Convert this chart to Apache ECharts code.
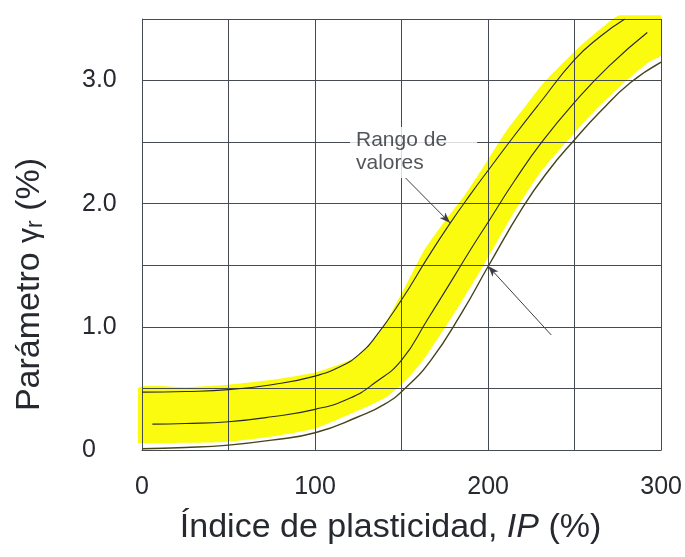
<!DOCTYPE html>
<html>
<head>
<meta charset="utf-8">
<script src="https://cdn.jsdelivr.net/npm/echarts@6/dist/echarts.min.js"></script>
<style>
  html, body { margin: 0; padding: 0; background: #ffffff; }
  #chart { width: 685px; height: 557px; }
</style>
</head>
<body>
<div id="chart"></div>
<script>
// Parámetro γr frente al índice de plasticidad IP: curvas límite y media
const upperCurve = [[0,0.47],[25,0.475],[50,0.49],[75,0.53],[100,0.60],[115,0.68],[125,0.77],[135,0.92],[150,1.22],[165,1.56],[178,1.84],[190,2.08],[200,2.27],[215,2.55],[230,2.82],[250,3.17],[265,3.36],[279,3.5]];
const middleCurve = [[6,0.21],[25,0.215],[50,0.23],[75,0.27],[100,0.33],[120,0.42],[135,0.55],[150,0.73],[165,1.06],[180,1.40],[190,1.63],[200,1.85],[215,2.18],[231,2.50],[251,2.84],[270,3.12],[292,3.39]];
const lowerCurve = [[0,0.01],[25,0.02],[50,0.04],[75,0.08],[100,0.14],[125,0.27],[140,0.37],[152,0.50],[167,0.73],[185,1.12],[200,1.49],[220,1.97],[235,2.27],[250,2.52],[265,2.75],[282,2.98],[300,3.15]];

// Franja amarilla (rango de valores): borde superior e inferior
const bandTop = [[-2.3,0.50],[25,0.51],[50,0.53],[75,0.57],[100,0.63],[115,0.70],[125,0.77],[138,0.97],[150,1.27],[163,1.62],[175,1.86],[186,2.06],[200,2.36],[211,2.60],[222,2.80],[232,2.98],[251,3.25],[265,3.42],[276,3.53],[300,3.53]];
const bandBottom = [[-2.3,0.055],[25,0.058],[50,0.068],[75,0.11],[100,0.175],[125,0.32],[140,0.42],[150,0.53],[162,0.72],[180,1.10],[197,1.49],[215,1.93],[230,2.25],[245,2.50],[262,2.76],[280,3.00],[293,3.15],[300,3.21]];

// Flechas de la anotación: [inicio, punta]
const arrowToUpper = [[152.3,2.209],[178.1,1.843]];
const arrowToLower = [[236.5,0.934],[200,1.494]];
const noteAnchor = [120.2,2.623];
const noteLines = ['Rango de', 'valores'];

// Ejes
const xTicks = [0,100,200,300];
const yTicks = [0,1.0,2.0,3.0];

const FONT = "'Liberation Sans', Arial, sans-serif";
const INK = '#26292f';
const GRID = '#464a52';

const chart = echarts.init(document.getElementById('chart'), null, { renderer: 'canvas' });

chart.setOption({
  animation: false,
  backgroundColor: '#ffffff',
  grid: { left: 142, right: 19, top: 19, bottom: 107, containLabel: false },
  xAxis: {
    type: 'value', min: 0, max: 300, interval: 50, z: 3,
    axisLine: { show: true, lineStyle: { color: GRID, width: 1 } },
    axisTick: { show: false },
    splitLine: { show: true, lineStyle: { color: GRID, width: 1 } },
    axisLabel: {
      margin: 25, fontSize: 25, color: INK, fontFamily: FONT,
      formatter: v => xTicks.includes(v) ? String(v) : ''
    },
    name: '{n|Índice de plasticidad, }{i|IP}{n| (%)}',
    nameLocation: 'middle', nameGap: 61,
    nameTextStyle: {
      padding: [0, 22, 0, 0],
      rich: {
        n: { fontSize: 34, color: INK, fontFamily: FONT },
        i: { fontSize: 34, color: INK, fontFamily: FONT, fontStyle: 'italic' }
      }
    }
  },
  yAxis: {
    type: 'value', min: 0, max: 3.5, interval: 0.5, z: 3,
    axisLine: { show: true, lineStyle: { color: GRID, width: 1 } },
    axisTick: { show: false },
    splitLine: { show: true, lineStyle: { color: GRID, width: 1 } },
    axisLabel: {
      margin: 60, align: 'left', fontSize: 25, color: INK, fontFamily: FONT,
      formatter: v => yTicks.includes(v) ? (v === 0 ? '0' : v.toFixed(1)) : ''
    },
    name: '{n|Parámetro }{g|γ}{s|r}{n| (%)}',
    nameLocation: 'middle', nameGap: 95,
    nameTextStyle: {
      padding: [0, 100, 0, 0],
      rich: {
        n: { fontSize: 34, color: INK, fontFamily: FONT },
        g: { fontSize: 30, color: INK, fontFamily: FONT },
        s: { fontSize: 23, color: INK, fontFamily: FONT, verticalAlign: 'bottom', lineHeight: 23 }
      }
    }
  },
  series: [
    {
      name: 'Rango de valores',
      type: 'custom',
      z: 1,
      silent: true,
      clip: false,
      data: [[0, 0]],
      renderItem: (params, api) => {
        const pts = bandTop.map(p => api.coord(p))
          .concat(bandBottom.slice().reverse().map(p => api.coord(p)));
        const xs = pts.map(p => p[0]);
        const ys = pts.map(p => p[1]);
        const box = [[Math.min(...xs), Math.min(...ys)], [Math.max(...xs), Math.max(...ys)]];
        return {
          type: 'polygon',
          shape: { points: pts, smooth: 0.2, smoothConstraint: box },
          style: { fill: '#fbfb10', stroke: null }
        };
      }
    },
    {
      name: 'Límite superior', type: 'line', z: 4, data: upperCurve,
      smooth: 0.5, showSymbol: false, symbol: 'none',
      lineStyle: { color: '#26282c', width: 1.1 }
    },
    {
      name: 'Media', type: 'line', z: 4, data: middleCurve,
      smooth: 0.5, showSymbol: false, symbol: 'none',
      lineStyle: { color: '#26282c', width: 1.1 }
    },
    {
      name: 'Límite inferior', type: 'line', z: 4, data: lowerCurve,
      smooth: 0.5, showSymbol: false, symbol: 'none',
      lineStyle: { color: '#47431c', width: 1.4 }
    },
    {
      name: 'Nota', type: 'scatter', z: 5, silent: true,
      data: [noteAnchor], symbolSize: 0,
      label: {
        show: true, position: [0, 0], align: 'left', verticalAlign: 'top',
        formatter: noteLines.join('\n'),
        fontSize: 21, lineHeight: 23.5, color: INK, fontFamily: FONT,
        backgroundColor: '#ffffff', padding: [1, 30, 3, 6]
      },
      markLine: {
        silent: true, symbol: ['none', 'arrow'], symbolSize: [6, 11],
        lineStyle: { color: '#3a3e46', width: 1, type: 'solid' },
        label: { show: false },
        data: [
          [{ coord: arrowToUpper[0] }, { coord: arrowToUpper[1] }],
          [{ coord: arrowToLower[0] }, { coord: arrowToLower[1] }]
        ]
      }
    }
  ]
});
</script>
</body>
</html>
